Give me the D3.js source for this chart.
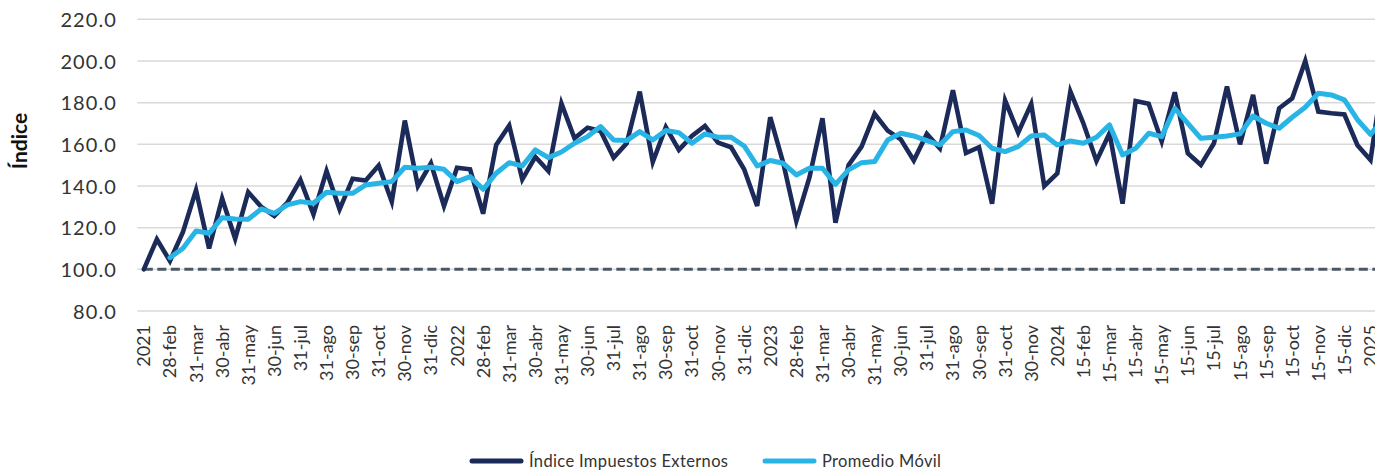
<!DOCTYPE html>
<html lang="es">
<head>
<meta charset="utf-8">
<script src="https://cdn.jsdelivr.net/npm/d3@7"></script>
<style>
  html, body { margin: 0; padding: 0; background: #ffffff; }
  svg { display: block; }
  .axis text { fill: #333333; font-family: Lato, "Open Sans", sans-serif; }
</style>
</head>
<body>
<svg id="chart" width="1375" height="470"></svg>
<script>
// Índice de impuestos externos (base 100) y su promedio móvil
const indice = [
  100, 114.4, 104, 118, 138, 110, 134, 114.7, 137, 130,
  125.6, 132, 142.9, 126.4, 147.2, 128.8, 143.5, 142.6, 149.8, 132.5,
  171.4, 140, 150.9, 130.4, 148.8, 148, 126.7, 159.7, 169, 143.2,
  154, 147.2, 179.6, 162.9, 168, 166.4, 153.6, 160.5, 185.3, 151.5,
  168.2, 157.3, 164, 168.8, 160.8, 158.6, 148, 130.4, 173, 151,
  123.2, 144, 172.5, 122.4, 150, 158.9, 174.6, 166.6, 162.4, 152.2,
  165, 158, 186, 155.8, 158.6, 131.5, 181, 165.6, 179.4, 140,
  146.1, 185.4, 170, 152, 165.3, 131.5, 180.8, 179.5, 161.4, 185,
  155.7, 150.1, 160.5, 187.7, 160, 183.7, 150.7, 177.3, 182.1, 200,
  175.7, 174.9, 174.3, 159.6, 152.5, 195
];

const promedioMovil = [
  null, null, 105.6, 110.1, 118.4, 117.3, 124.8, 124.2, 124, 129,
  126.9, 130.9, 132.5, 131.7, 137, 136.5, 136.5, 140.5, 141.3, 142.1,
  149, 148.5, 149, 148, 142.1, 144.5, 138.4, 146.1, 151.2, 149.6,
  157.3, 153.6, 156.3, 160.5, 163.7, 168.5, 162.1, 161.8, 166.1, 162.1,
  166.6, 165.6, 160.5, 165, 163.4, 163.4, 159.2, 149.6, 152.2, 150.9,
  145.3, 148.5, 148.5, 140.8, 147.7, 151.2, 151.7, 162.1, 165.3, 164,
  161.8, 159.7, 166.1, 166.9, 164.2, 158.1, 156.5, 158.9, 164, 164.5,
  159.7, 161.6, 160.5, 163.4, 169.3, 154.9, 158.1, 165.3, 163.7, 177.3,
  170.1, 162.9, 163.4, 164, 165, 173.6, 170.1, 167.7, 173, 177.8,
  184.5, 183.7, 181.3, 171.8, 164.8, 172
];

// Etiquetas del eje de fechas (una cada dos observaciones)
const etiquetasFecha = [
  "2021", "28-feb", "31-mar", "30-abr", "31-may", "30-jun", "31-jul", "31-ago", "30-sep", "31-oct", "30-nov", "31-dic",
  "2022", "28-feb", "31-mar", "30-abr", "31-may", "30-jun", "31-jul", "31-ago", "30-sep", "31-oct", "30-nov", "31-dic",
  "2023", "28-feb", "31-mar", "30-abr", "31-may", "30-jun", "31-jul", "31-ago", "30-sep", "31-oct", "30-nov",
  "2024", "15-feb", "15-mar", "15-abr", "15-may", "15-jun", "15-jul", "15-ago", "15-sep", "15-oct", "15-nov", "15-dic", "2025"
];

const yTicks = [80, 100, 120, 140, 160, 180, 200, 220];
const base = 100;

const colorIndice = "#1b2a58";
const colorPromedio = "#29b4e6";

const svg = d3.select("#chart");

const plotLeft = 137.3;
const step = 13.05;
const n = indice.length;
const x = d3.scaleBand()
  .domain(d3.range(n))
  .range([plotLeft, plotLeft + n * step])
  .paddingInner(0).paddingOuter(0);
const cx = i => x(i) + x.bandwidth() / 2;

const y = d3.scaleLinear().domain([80, 220]).range([311, 19.3]);

// Líneas de cuadrícula horizontales
svg.append("g")
  .selectAll("line")
  .data(yTicks)
  .join("line")
  .attr("x1", plotLeft)
  .attr("x2", plotLeft + n * step)
  .attr("y1", d => y(d))
  .attr("y2", d => y(d))
  .attr("stroke", "#d9d9d9")
  .attr("stroke-width", 1.5);

// Eje Y
const yAxis = svg.append("g")
  .attr("class", "axis")
  .attr("transform", `translate(117,0)`)
  .call(d3.axisLeft(y).tickValues(yTicks).tickFormat(d3.format(".1f")).tickSize(0).tickPadding(0));
yAxis.select(".domain").remove();
yAxis.selectAll("text")
  .attr("font-size", 20)
  .attr("letter-spacing", "1.1px")
  .attr("dy", "0.36em");

// Eje X con etiquetas verticales
const xAxis = svg.append("g")
  .attr("class", "axis")
  .attr("transform", `translate(0,325)`)
  .call(d3.axisBottom(x)
    .tickValues(d3.range(0, n, 2).filter(i => i / 2 < etiquetasFecha.length))
    .tickFormat(i => etiquetasFecha[i / 2])
    .tickSize(0).tickPadding(0));
xAxis.select(".domain").remove();
xAxis.selectAll("text")
  .attr("font-size", 18)
  .attr("text-anchor", "end")
  .attr("transform", "rotate(-90)")
  .attr("x", 0)
  .attr("y", 0)
  .attr("dy", "0.36em");

// Título del eje Y
svg.append("text")
  .attr("transform", "translate(27,141) rotate(-90)")
  .attr("text-anchor", "middle")
  .attr("font-family", "Lato, 'Open Sans', sans-serif")
  .attr("font-weight", 700)
  .attr("font-size", 21)
  .attr("fill", "#111111")
  .text("Índice");

// Línea base en 100
svg.append("line")
  .attr("x1", cx(0))
  .attr("x2", cx(n - 1))
  .attr("y1", y(base))
  .attr("y2", y(base))
  .attr("stroke", "#4b5863")
  .attr("stroke-width", 3)
  .attr("stroke-dasharray", "9 4.5");

const line = d3.line()
  .defined(d => d != null)
  .x((d, i) => cx(i))
  .y(d => y(d));

svg.append("path")
  .datum(indice)
  .attr("fill", "none")
  .attr("stroke", colorIndice)
  .attr("stroke-width", 4.6)
  .attr("stroke-linejoin", "miter")
  .attr("stroke-linecap", "round")
  .attr("d", line);

svg.append("path")
  .datum(promedioMovil)
  .attr("fill", "none")
  .attr("stroke", colorPromedio)
  .attr("stroke-width", 5)
  .attr("stroke-linejoin", "round")
  .attr("stroke-linecap", "round")
  .attr("d", line);

// Leyenda
const legendItems = [
  { label: "Índice Impuestos Externos", color: colorIndice, x: 470 },
  { label: "Promedio Móvil", color: colorPromedio, x: 763 }
];
const legend = svg.append("g").attr("transform", "translate(0,461)");
const li = legend.selectAll("g").data(legendItems).join("g")
  .attr("transform", d => `translate(${d.x},0)`);
li.append("line")
  .attr("x1", 2).attr("x2", 51)
  .attr("stroke", d => d.color)
  .attr("stroke-width", 5)
  .attr("stroke-linecap", "round");
li.append("text")
  .attr("x", 59)
  .attr("dy", "0.35em")
  .attr("font-family", "Lato, 'Open Sans', sans-serif")
  .attr("font-size", 16.5)
  .attr("letter-spacing", "0.35px")
  .attr("fill", "#333333")
  .text(d => d.label);
</script>
</body>
</html>
